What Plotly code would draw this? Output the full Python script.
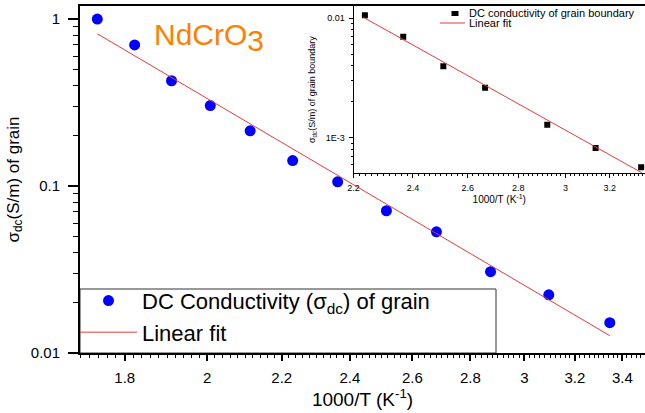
import numpy as np
import plotly.graph_objects as go

# ---- data -------------------------------------------------------------
# grain conductivity vs inverse temperature
inv_temp_grain = [1.738, 1.823, 1.911, 2.008, 2.113, 2.231, 2.363, 2.515, 2.681, 2.873, 3.095, 3.346]
sigma_grain = [1.0, 0.70, 0.427, 0.303, 0.214, 0.142, 0.106, 0.0711, 0.0532, 0.0307, 0.0223, 0.0152]
fit_x_grain = [1.738, 3.346]
fit_y_grain = [0.816, 0.0127]

# grain-boundary conductivity (inset)
inv_temp_gb = [2.237, 2.366, 2.509, 2.667, 2.921, 3.135, 3.351]
sigma_gb = [0.01059, 0.00701, 0.00396, 0.00262, 0.001285, 0.00082, 0.000565]
fit_x_gb = [2.232, 3.354]
fit_y_gb = [0.01019, 0.000509]

# tick labels
x_major = [1.8, 2.0, 2.2, 2.4, 2.6, 2.8, 3.0, 3.2, 3.4]
x_major_text = ["1.8", "2", "2.2", "2.4", "2.6", "2.8", "3", "3.2", "3.4"]
y_major = [0.01, 0.1, 1.0]
y_major_text = ["0.01", "0.1", "1"]
inset_x_major = [2.2, 2.4, 2.6, 2.8, 3.0, 3.2, 3.4]
inset_x_text = ["2.2", "2.4", "2.6", "2.8", "3", "3.2", "3.4"]
inset_y_major = [0.01, 0.001]
inset_y_text = ["0.01", "1E-3"]

FONT = "Liberation Sans, Arial, sans-serif"
RED = "#e23b3b"


def minor_linear(lo, hi, step, majors):
    vals = np.round(np.arange(lo, hi + step / 2, step), 3)
    return [float(v) for v in vals if not any(abs(v - m) < 1e-6 for m in majors)]


def minor_log(exponents):
    return [k * 10.0 ** e for e in exponents for k in range(2, 10)]


fig = go.Figure()

fig.add_trace(go.Scatter(
    x=inv_temp_grain, y=sigma_grain, mode="markers",
    marker=dict(symbol="circle", size=11, color="#0000ff"),
    name="DC Conductivity (σ<sub>dc</sub>) of grain",
    xaxis="x", yaxis="y",
))
fig.add_trace(go.Scatter(
    x=fit_x_grain, y=fit_y_grain, mode="lines",
    line=dict(color=RED, width=1),
    name="Linear fit", xaxis="x", yaxis="y",
))

fig.add_trace(go.Scatter(
    x=inv_temp_gb, y=sigma_gb, mode="markers",
    marker=dict(symbol="square", size=6, color="black"),
    showlegend=False, xaxis="x2", yaxis="y2",
))
fig.add_trace(go.Scatter(
    x=fit_x_gb, y=fit_y_gb, mode="lines",
    line=dict(color=RED, width=1),
    showlegend=False, xaxis="x2", yaxis="y2",
))

axis_common = dict(showgrid=False, zeroline=False, showline=True, linecolor="black",
                   ticks="outside", tickcolor="black")

fig.update_layout(
    width=645, height=413,
    margin=dict(l=80, r=0, t=6, b=60),
    paper_bgcolor="white", plot_bgcolor="white",
    font=dict(family=FONT, color="black"),
    xaxis=dict(
        **axis_common, type="log", domain=[0, 1],
        range=[np.log10(1.70), np.log10(3.5)],
        linewidth=2, mirror=True, ticklen=6, tickwidth=1.5,
        tickvals=x_major, ticktext=x_major_text,
        tickfont=dict(size=15), ticklabelstandoff=4,
        minor=dict(tickvals=minor_linear(1.70, 3.50, 0.02, x_major),
                   ticks="outside", ticklen=3, tickwidth=1, tickcolor="black"),
        title=dict(text="1000/T (K<sup>-1</sup>)", font=dict(size=19), standoff=5),
    ),
    yaxis=dict(
        **axis_common, type="log", domain=[0, 1],
        range=[-2, 0.078],
        linewidth=2, mirror=False, ticklen=10, tickwidth=1.5,
        tickvals=y_major, ticktext=y_major_text,
        tickfont=dict(size=15), ticklabelstandoff=5,
        minor=dict(tickvals=minor_log([-2, -1]),
                   ticks="outside", ticklen=5, tickwidth=1, tickcolor="black"),
        title=dict(text="σ<sub>dc</sub>(S/m) of grain", font=dict(size=17), standoff=7),
    ),
    xaxis2=dict(
        **axis_common, type="log", anchor="y2",
        domain=[(353.5 - 80) / 565, 1],
        range=[np.log10(2.2), 0.52762],
        linewidth=1, mirror=True, ticklen=4, tickwidth=1,
        tickvals=inset_x_major, ticktext=inset_x_text,
        tickfont=dict(size=9), ticklabelstandoff=2,
        minor=dict(tickvals=minor_linear(2.20, 3.40, 0.02, inset_x_major),
                   ticks="outside", ticklen=2, tickwidth=1, tickcolor="black"),
        title=dict(text="1000/T (K<sup>-1</sup>)", font=dict(size=10), standoff=1),
    ),
    yaxis2=dict(
        **axis_common, type="log", anchor="x2",
        domain=[(353 - 173.3) / 347, 1],
        range=[-3.298, -1.897],
        linewidth=1, mirror=False, ticklen=4, tickwidth=1,
        tickvals=inset_y_major, ticktext=inset_y_text,
        tickfont=dict(size=9), ticklabelstandoff=2,
        minor=dict(tickvals=minor_log([-4, -3]),
                   ticks="outside", ticklen=2, tickwidth=1, tickcolor="black"),
        title=dict(text="σ<sub>dc</sub>(S/m) of grain boundary", font=dict(size=9), standoff=8),
    ),
    legend=dict(
        x=-5 / 565, y=0.211, xanchor="left", yanchor="top",
        bgcolor="rgba(0,0,0,0)", borderwidth=0,
        font=dict(size=22, family=FONT, color="black"),
        itemwidth=57, tracegroupgap=0,
    ),
    showlegend=True,
)

# frame around the main legend
fig.add_shape(type="rect", xref="paper", yref="paper",
              x0=0, x1=(496 - 80) / 565, y0=0, y1=(353 - 289) / 347,
              line=dict(color="#333333", width=1), fillcolor="white", layer="below")

# inset legend: frame, key symbols and labels
fig.add_shape(type="rect", xref="x2 domain", yref="y2 domain",
              x0=0.2453, x1=1.05, y0=0.8763, y1=1.0,
              line=dict(color="#333333", width=1), fillcolor="white", layer="below")
fig.add_shape(type="rect", xref="x2 domain", yref="y2 domain",
              xsizemode="pixel", ysizemode="pixel", xanchor=0.3482, yanchor=0.9552,
              x0=-3.5, x1=3.5, y0=-2.5, y1=2.5,
              line=dict(width=0), fillcolor="black")
fig.add_shape(type="line", xref="x2 domain", yref="y2 domain",
              x0=0.2967, x1=0.3825, y0=0.8984, y1=0.8984,
              line=dict(color="#e88080", width=1.5))
fig.add_annotation(xref="x2 domain", yref="y2 domain", x=0.3894, y=0.9552,
                   xanchor="left", yanchor="middle", showarrow=False,
                   text="DC conductivity of grain boundary",
                   font=dict(size=11, family=FONT, color="black"))
fig.add_annotation(xref="x2 domain", yref="y2 domain", x=0.3894, y=0.8984,
                   xanchor="left", yanchor="middle", showarrow=False,
                   text="Linear fit",
                   font=dict(size=11, family=FONT, color="black"))

# compound label
fig.add_annotation(xref="paper", yref="paper", x=(152 - 80) / 565, y=(353 - 37) / 347,
                   xanchor="left", yanchor="middle", showarrow=False,
                   text="NdCrO<sub><span style='font-size:30px'>3</span></sub>",
                   font=dict(size=30, family=FONT, color="#ff8000"))

fig.write_html("out.html")
